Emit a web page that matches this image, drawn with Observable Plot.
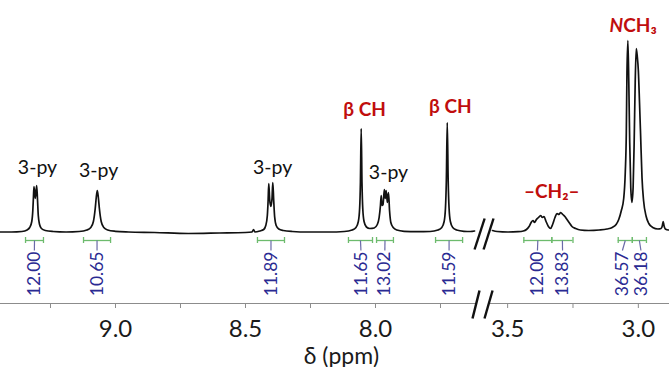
<!DOCTYPE html>
<html><head><meta charset="utf-8">
<script src="https://cdn.jsdelivr.net/npm/d3@7"></script>
<script src="https://cdn.jsdelivr.net/npm/@observablehq/plot@0.6"></script>
<style>
html,body{margin:0;padding:0;background:#fff;}
#chart svg g[aria-label^="x-axis"] line, #chart svg g[aria-label^="x-axis"] path {stroke:#8c8c8c;}
</style></head><body><div id="chart"></div>
<script>
// ---- spectrum, left segment (aromatic region), ppm vs intensity (px-like units) ----
const leftPpm = [9.442,9.40,9.36,9.34,9.330,9.322,9.318,9.3155,9.3135,9.3085,9.3032,9.300,9.297,9.292,9.285,9.27,9.24,9.19,
  9.14,9.11,9.095,9.085,9.078,9.074,9.070,9.066,9.062,9.055,9.045,9.030,9.00,8.95,8.85,8.72,8.60,8.50,8.475,8.469,8.464,
  8.445,8.430,8.422,8.416,8.413,8.4105,8.407,8.4025,8.398,8.3950,8.3915,8.388,8.382,8.372,8.355,8.32,8.26,8.18,8.12,
  8.090,8.075,8.066,8.061,8.058,8.055,8.052,8.049,8.044,8.035,8.022,8.005,7.993,7.986,7.981,7.978,7.975,7.971,7.966,
  7.9625,7.959,7.9545,7.950,7.946,7.941,7.932,7.918,7.89,7.84,7.79,7.760,7.745,7.736,7.731,7.7275,7.724,7.7205,7.717,
  7.712,7.703,7.688,7.66,7.635,7.619];
const leftInt = [0.5,0.5,1,2.5,5,11,22,36,46,34,47,33,17,8,4,2,1,0.5,
  1,2.5,5,11,24,35,42,35,24,11,5,2.5,1.2,0.5,0,-1,-0.5,0,0.5,3,0.5,
  1.5,3,7,17,32,49,33,26,34,50,32,16,7,3.5,2,1,0.5,0.5,1,
  2.5,5,11,24,50,104,50,24,11,5.5,4,4.5,8,15,27,37,27,28,43,
  34,42,30,40,22,10,5,2.5,1.2,0.8,1,2.5,5,11,24,52,110,52,24,
  11,5,2.5,1.2,1,1.5];
// ---- spectrum, right segment (aliphatic region) ----
const rightPpm = [3.558,3.54,3.50,3.46,3.440,3.428,3.418,3.410,3.403,3.397,3.390,3.382,3.374,3.367,3.361,3.353,3.344,3.336,
  3.328,3.319,3.311,3.304,3.297,3.289,3.281,3.273,3.265,3.254,3.240,3.222,3.19,3.15,3.12,3.10,3.085,3.075,3.065,3.056,
  3.050,3.046,3.0435,3.040,3.0365,3.033,3.029,3.0245,3.020,3.016,3.012,3.008,3.004,3.000,2.9955,2.9915,2.986,2.980,
  2.970,2.960,2.945,2.925,2.913,2.908,2.905,2.902,2.897,2.885,2.881];
const rightInt = [2,1,0.5,0.8,1.5,3,6,10,12,10,13,15,17,15,16,11,6,4,
  8,15,19,18,20,18,16,13,10,6,4,2.5,2,2.5,3.5,5,8,13,22,34,
  60,100,160,192,150,90,45,30,45,90,150,184,176,162,130,99,55,32,
  16,9,5,3.5,4,7,11,7,3.5,2.5,2.5];

// ---- axis ----
const tickValues = [9.25,9.0,8.75,8.5,8.25,8.0,7.75,3.5,3.25,3.0];
const tickLabels = [9.0,8.5,8.0,3.5,3.0];
const axisSegStart = [9.4423,3.569];
const axisSegEnd = [7.6077,2.8808];

// ---- break marks (slashes) ----
const slashX1 = [7.619,3.592,7.6269,3.5885];
const slashX2 = [3.588,3.554,7.600,3.5577];
const slashY1 = [-17,-17,-86,-86];
const slashY2 = [14,14,-58,-58];

// ---- integrals ----
const integralValues = ["12.00","10.65","11.89","11.65","13.02","11.59","12.00","13.83","36.57","36.18"];
const integralStart = [9.346,9.123,8.454,8.104,7.996,7.769,3.438,3.331,3.077,3.023];
const integralEnd   = [9.277,9.019,8.350,8.0115,7.931,7.665,3.331,3.250,3.023,2.969];
const integralLabelX = [9.312,9.071,8.402,8.056,7.964,7.717,3.386,3.290,3.061,2.990];

// ---- peak labels ----
const pyLabelX = [9.300,9.065,8.396,7.950];
const pyLabelY = [59,56,59,54];
const betaLabelX = [8.042,7.712];
const betaLabelY = [117,120];
const ch2Label = "–CH₂–", ch2X = 3.331, ch2Y = 35;
const nch3X = 3.058, nch3Y = 201;

const red = "#c00d0d", navy = "#2a2a92", green = "#6dbb6d";
const ff = "Lato, 'Open Sans', 'DejaVu Sans', sans-serif";

const leftData = leftPpm.map((p,i)=>({ppm:p, v:leftInt[i]}));
const rightData = rightPpm.map((p,i)=>({ppm:p, v:rightInt[i]}));
const axisSegs = axisSegStart.map((s,i)=>({from:s, to:axisSegEnd[i]}));
const slashes = slashX1.map((x,i)=>({x1:x, x2:slashX2[i], y1:slashY1[i], y2:slashY2[i]}));
const integrals = integralValues.map((v,i)=>({value:v, start:integralStart[i], end:integralEnd[i], lx:integralLabelX[i]}));
const pyLabels = pyLabelX.map((x,i)=>({x, y:pyLabelY[i]}));
const betaLabels = betaLabelX.map((x,i)=>({x, y:betaLabelY[i]}));

const chart = Plot.plot({
  width: 669, height: 367,
  marginLeft: 0, marginRight: 0, marginTop: 0, marginBottom: 64,
  style: {fontFamily: ff, fontSize: "24px", color: "#1a1a1a", background: "#fff", overflow: "visible"},
  x: {type: "linear", domain: [9.4423, 7.6, 3.6, 2.8808], range: [0, 479, 481, 669],
      ticks: tickValues, tickFormat: d => tickLabels.includes(d) ? d.toFixed(1) : "",
      tickSize: 5, tickPadding: 11, label: null},
  y: {domain: [-71, 232], range: [303, 0], axis: null},
  marks: [
    Plot.ruleY(axisSegs, {x1: "from", x2: "to", y: -71, stroke: "#8c8c8c", strokeWidth: 1.2}),
    Plot.line(leftData, {x: "ppm", y: "v", stroke: "#111", strokeWidth: 1.7, curve: "monotone-x"}),
    Plot.line(rightData, {x: "ppm", y: "v", stroke: "#111", strokeWidth: 1.7, curve: "monotone-x"}),
    Plot.link(slashes, {x1: "x1", x2: "x2", y1: "y1", y2: "y2", stroke: "#111", strokeWidth: 2.4}),
    Plot.ruleY(integrals, {x1: "start", x2: "end", y: -8, stroke: green, strokeWidth: 1.3}),
    Plot.ruleX(integrals, {x: "start", y1: -5, y2: -11, stroke: green, strokeWidth: 1.3}),
    Plot.ruleX(integrals, {x: "end", y1: -5, y2: -11, stroke: green, strokeWidth: 1.3}),
    Plot.link(integrals, {x1: d => (d.start + d.end) / 2, y1: -8, x2: "lx", y2: -18, stroke: "#6a6aa8", strokeWidth: 1.2}),
    Plot.text(integrals, {x: "lx", y: -19, text: "value", rotate: -90, textAnchor: "end", lineAnchor: "middle",
      fill: navy, fontSize: 17.5, fontFamily: ff}),
    Plot.text(pyLabels, {x: "x", y: "y", text: d => "3-py", lineAnchor: "bottom", fill: "#111", fontSize: 19.5, fontFamily: ff}),
    Plot.text(betaLabels, {x: "x", y: "y", text: d => "β CH", lineAnchor: "bottom", fill: red, fontSize: 19, fontWeight: "bold", fontFamily: ff}),
    Plot.text([ch2Label], {x: ch2X, y: ch2Y, text: d => d, lineAnchor: "bottom", fill: red, fontSize: 19, fontWeight: "bold", fontFamily: ff}),
    Plot.text(["N"], {x: nch3X, y: nch3Y, text: d => d, textAnchor: "end", lineAnchor: "bottom", fill: red, fontSize: 19, fontWeight: "bold", fontStyle: "italic", fontFamily: ff}),
    Plot.text(["CH₃"], {x: nch3X, y: nch3Y, text: d => d, textAnchor: "start", lineAnchor: "bottom", fill: red, fontSize: 19, fontWeight: "bold", fontFamily: ff}),
    Plot.text(["δ (ppm)"], {x: 8.131, y: -131, text: d => d, lineAnchor: "bottom", fill: "#1a1a1a", fontSize: 23, fontFamily: ff})
  ]
});
document.getElementById("chart").appendChild(chart);
</script></body></html>
